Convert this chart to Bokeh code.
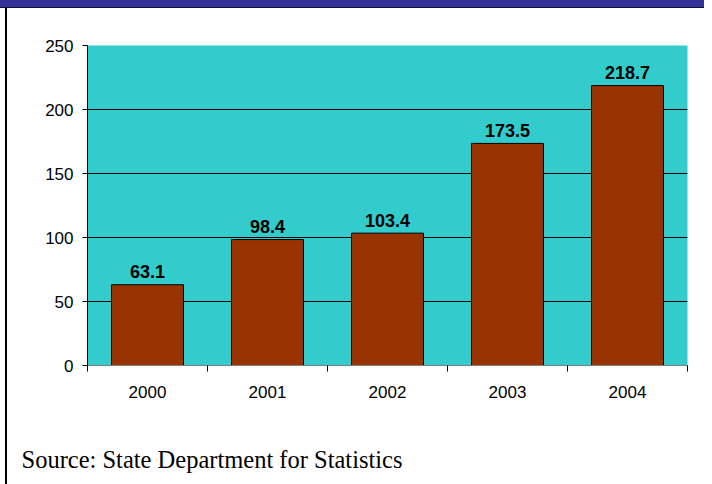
from bokeh.plotting import figure
from bokeh.models import (FactorRange, Range1d, LinearAxis, CategoricalAxis, FixedTicker,
                          Title, ColumnDataSource)
from bokeh.core.properties import value
from bokeh.embed import file_html
from bokeh.resources import INLINE

# ---- data ----
years = ["2000", "2001", "2002", "2003", "2004"]
values = [63.1, 98.4, 103.4, 173.5, 218.7]
value_labels = ["63.1", "98.4", "103.4", "173.5", "218.7"]
y_ticks = [0, 50, 100, 150, 200, 250]
source_note = "Source: State Department for Statistics"

W, H = 704, 484
FL, FT, FR, FB = 87, 45, 687, 365  # frame edges in page px

slide_bg = ("linear-gradient(#333399,#333399) 0 0/100% 7px no-repeat, "
            "linear-gradient(#111133,#111133) 0 7px/100% 1px no-repeat, "
            "linear-gradient(#000,#000) 5px 8px/2px 100% no-repeat, white")

p = figure(x_range=FactorRange(factors=years), y_range=Range1d(0, 250),
           width=W, height=H, output_backend="svg", toolbar_location=None,
           x_axis_location=None,
           min_border_left=FL, min_border_right=W - FR,
           min_border_top=FT, min_border_bottom=H - FB,
           background_fill_color="#33CCCC", border_fill_color=None,
           outline_line_color=None,
           styles={"background": slide_bg})

src = ColumnDataSource(dict(year=years, value=values, label=value_labels))
p.vbar(x="year", top="value", bottom=0, width=0.6, source=src,
       fill_color="#993300", line_color="black", line_width=1)
p.text(x="year", y="value", text="label", source=src, text_align="center",
       text_baseline="alphabetic", y_offset=-13,
       text_font=value("Liberation Sans"), text_font_style="bold",
       text_font_size="18px", text_color="black")

# y axis
p.yaxis.ticker = FixedTicker(ticks=y_ticks)
p.yaxis.axis_line_color = "black"
p.yaxis.major_tick_line_color = "black"
p.yaxis.major_tick_in = 0
p.yaxis.major_tick_out = 5
p.yaxis.minor_tick_line_color = None
p.yaxis.major_label_text_font = "Liberation Sans"
p.yaxis.major_label_text_font_size = "17px"
p.yaxis.major_label_text_color = "black"
p.yaxis.major_label_standoff = 9
p.ygrid.ticker = FixedTicker(ticks=y_ticks)
p.ygrid.grid_line_color = "black"
p.ygrid.grid_line_width = 1
p.xgrid.grid_line_color = None

# x axis: ticks at category boundaries (synthetic coords) + categorical labels
bounds = list(range(len(years) + 1))
tick_axis = LinearAxis(ticker=FixedTicker(ticks=bounds),
                       major_label_overrides={b: "" for b in bounds},
                       major_label_text_font_size="0px", major_label_standoff=0,
                       axis_line_color="#808080", major_tick_line_color="black",
                       major_tick_in=0, major_tick_out=6, minor_tick_line_color=None)
p.add_layout(tick_axis, "below")
cat_axis = CategoricalAxis(axis_line_color=None, major_tick_line_color=None,
                           major_label_standoff=8,
                           major_label_text_font="Liberation Sans",
                           major_label_text_font_size="17px",
                           major_label_text_color="black")
p.add_layout(cat_axis, "below")

# vertical gap between the axis labels and the source note
p.add_layout(Title(text=" ", standoff=40, text_font_size="1px"), "below")
p.add_layout(Title(text=source_note, align="left", offset=21 - FL, standoff=0,
                   text_font="Liberation Serif", text_font_size="24.5px",
                   text_font_style="normal", text_color="black"), "below")

open("out.html", "w").write(file_html(p, INLINE))
